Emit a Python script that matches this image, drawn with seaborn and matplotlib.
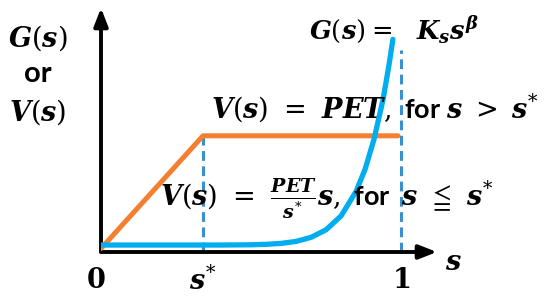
import matplotlib
matplotlib.use("Agg")
import matplotlib.pyplot as plt
import seaborn as sns
import pandas as pd

# ---- data ----
s_star = 0.34
PET = 1.0
v_s = [0.0, 0.34, 0.99]
v_vals = [0.03, 1.0, 1.0]
g_s = [0.0, 0.2, 0.4, 0.5, 0.55, 0.6, 0.65, 0.7, 0.75, 0.8, 0.85, 0.88, 0.91, 0.94, 0.96, 0.973]
g_vals = [0.06, 0.06, 0.06, 0.062, 0.066, 0.074, 0.091, 0.126, 0.191, 0.31, 0.52, 0.71, 0.97, 1.31, 1.61, 1.83]
guide_x = [0.34, 1.0]
guide_top = [1.0, 1.74]
tick_pos = [0.0, 0.34, 1.0]
tick_labels = [r"$\mathbf{0}$", r"$s^{*}$", r"$\mathbf{1}$"]

sns.set_theme(style="white")
plt.rcParams["mathtext.fontset"] = "custom"
plt.rcParams["mathtext.it"] = "DejaVu Serif:bold:italic"
plt.rcParams["mathtext.rm"] = "DejaVu Serif"
plt.rcParams["mathtext.bf"] = "DejaVu Serif:bold"
plt.rcParams["mathtext.fallback"] = "stix"
plt.rcParams["font.family"] = ["Lato", "DejaVu Sans"]
plt.rcParams["text.color"] = "black"

W, H = 550, 298
fig = plt.figure(figsize=(W / 100, H / 100), dpi=100)
ax = fig.add_axes([101 / W, 1 - 252 / H, (437 - 101) / W, (252 - 8) / H])
ax.set_xlim(0, 1.12)
ax.set_ylim(0, 2.10)
for sp in ax.spines.values():
    sp.set_visible(False)
ax.set_xticks([])
ax.set_yticks([])
ax.patch.set_alpha(0)

# axes with arrows
ax.annotate("", xy=(1, 0), xytext=(0, 0), xycoords="axes fraction",
            arrowprops=dict(arrowstyle="-|>,head_length=0.9,head_width=0.35",
                            color="black", lw=2.8, shrinkA=0, shrinkB=0))
ax.annotate("", xy=(0, 1), xytext=(0, 0), xycoords="axes fraction",
            arrowprops=dict(arrowstyle="-|>,head_length=0.9,head_width=0.35",
                            color="black", lw=2.8, shrinkA=0, shrinkB=0))

# dashed guides
for x, top in zip(guide_x, guide_top):
    ax.vlines(x, 0, top, colors="#3A8FD0", linestyles=(0, (3.2, 1.8)), lw=2.2, zorder=2)

dv = pd.DataFrame({"s": v_s, "v": v_vals})
dg = pd.DataFrame({"s": g_s, "g": g_vals})
sns.lineplot(data=dv, x="s", y="v", color="#F47F30", lw=3.6, sort=False, ax=ax, zorder=3)
sns.lineplot(data=dg, x="s", y="g", color="#00AEEF", lw=3.8, sort=False, ax=ax, zorder=4)
ax.set_xlabel("")
ax.set_ylabel("")

def ft(x, y, s, **kw):
    fig.text(x / W, 1 - y / H, s, **kw)

fs = 19.5
# left label
ft(38, 38, r"$G(s)$", ha="center", va="center", fontsize=fs)
ft(38, 74, "or", ha="center", va="center", fontsize=21, fontweight="bold")
ft(38, 112, r"$V(s)$", ha="center", va="center", fontsize=fs)

# tick labels
for p, lab in zip(tick_pos, tick_labels):
    xp = 101 + p * 300
    ft(xp - 5 if p == 0 else xp, 280, lab, ha="center", va="center", fontsize=fs)
ft(445, 263, r"$s$", ha="left", va="center", fontsize=fs)

# annotations
ft(309, 30, r"$G(s) =\ \ K_s s^{\beta}$", ha="left", va="center", fontsize=18.5)
ft(211, 108, r"$V(s)\ =\ PET,$" + " for " + r"$s\;>\;s^{*}$", ha="left", va="center",
   fontsize=fs, fontweight="bold")
ft(160, 199, r"$V(s)\ =\ \frac{PET}{s^{*}}s,$" + " for  " + r"$s\ \leqq\ s^{*}$",
   ha="left", va="center", fontsize=fs, fontweight="bold")

fig.savefig("out.png", dpi=100)
